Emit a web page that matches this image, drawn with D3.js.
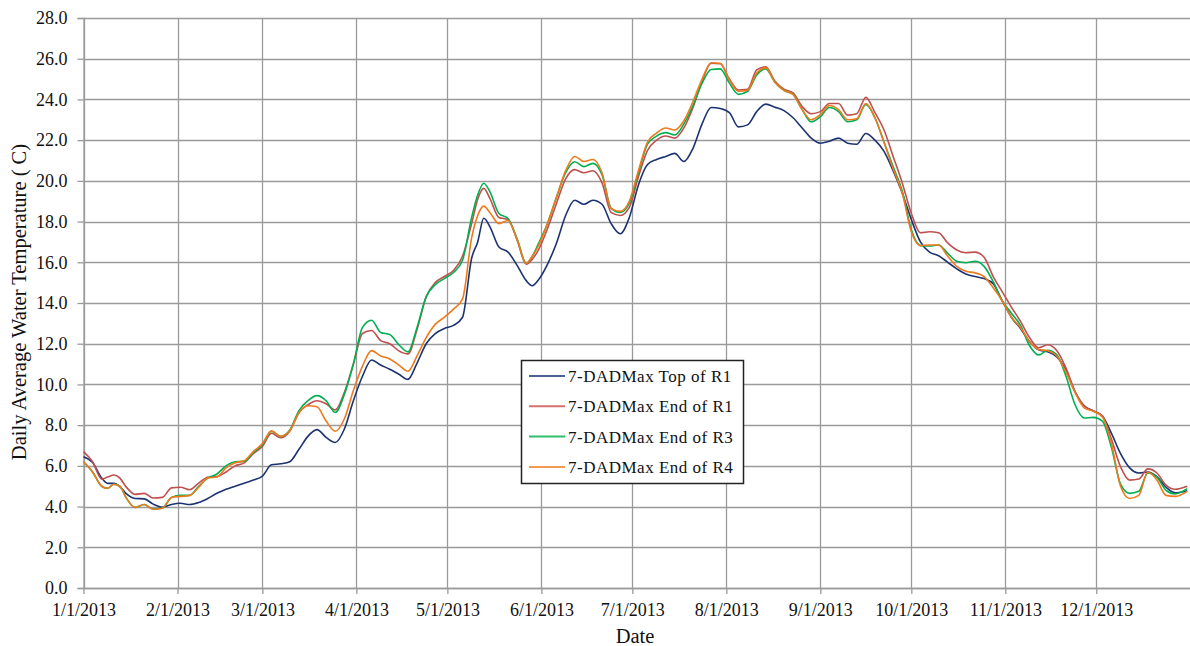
<!DOCTYPE html>
<html>
<head>
<meta charset="utf-8">
<script src="https://cdn.jsdelivr.net/npm/d3@7"></script>
<style>
  html, body { margin: 0; padding: 0; background: #fff; }
  svg { display: block; }
  text { font-family: "Liberation Serif", "Times New Roman", "DejaVu Serif", serif; fill: #111; }
</style>
</head>
<body>
<svg id="chart" width="1190" height="646"></svg>
<script>
// Day offsets from 1/1/2013 at which the 7-day average daily maximum was sampled
const dayOffsets = [0,3,6,8,10,12,14,17,20,23,26,29,32,35,38,41,44,47,50,53,56,59,62,65,68,71,74,77,80,83,86,89,92,95,98,101,104,107,110,113,116,119,122,125,128,130,132,134,137,140,143,146,148,150,153,156,159,162,165,168,171,174,177,180,183,186,189,192,195,198,201,204,207,210,213,216,219,222,225,228,231,234,237,240,243,246,249,252,255,258,261,264,267,270,273,276,279,282,285,288,291,294,297,300,303,306,309,312,315,318,321,324,327,330,333,336,339,342,345,348,351,354,357,360,364];

const topR1 = [6.45,6.16,5.4,5.14,5.14,4.98,4.65,4.4,4.38,4.12,3.97,4.1,4.16,4.1,4.2,4.4,4.65,4.85,5.0,5.15,5.3,5.5,6.05,6.1,6.2,6.8,7.45,7.78,7.4,7.15,7.8,9.2,10.4,11.2,10.95,10.75,10.5,10.25,11.05,12.0,12.5,12.75,12.9,13.3,16.2,17.0,18.16,17.75,16.75,16.5,15.85,15.1,14.85,15.13,15.9,16.95,18.3,19.05,18.85,19.05,18.85,17.9,17.4,18.2,19.8,20.8,21.05,21.2,21.35,20.95,21.6,22.8,23.6,23.55,23.35,22.65,22.75,23.4,23.77,23.62,23.45,23.1,22.6,22.1,21.85,21.95,22.1,21.85,21.8,22.33,22.0,21.45,20.5,19.4,18.1,17.0,16.5,16.32,16.0,15.68,15.42,15.3,15.2,14.95,14.1,13.3,12.75,12.1,11.7,11.6,11.35,10.7,9.64,8.95,8.7,8.45,7.6,6.6,5.9,5.65,5.7,5.47,4.95,4.68,4.78];

const endR1 = [6.7,6.2,5.35,5.45,5.55,5.4,4.98,4.6,4.65,4.42,4.45,4.92,4.95,4.83,5.15,5.44,5.47,5.7,6.0,6.15,6.6,6.95,7.6,7.38,7.7,8.6,9.0,9.2,9.05,8.75,9.6,11.0,12.5,12.65,12.15,12.0,11.65,11.5,12.7,14.3,15.0,15.3,15.6,16.3,17.9,19.1,19.63,19.14,18.2,18.1,17.1,15.9,16.15,16.6,17.65,18.9,20.1,20.55,20.4,20.5,19.9,18.45,18.3,18.7,20.2,21.5,22.0,22.2,22.1,22.6,23.6,24.9,25.78,25.75,25.0,24.46,24.5,25.45,25.6,24.9,24.5,24.32,23.65,23.3,23.4,23.8,23.8,23.23,23.3,24.1,23.35,22.5,21.2,19.9,18.4,17.45,17.5,17.45,16.95,16.6,16.47,16.5,16.25,15.3,14.55,13.8,13.1,12.3,11.8,11.95,11.65,10.8,9.64,8.95,8.7,8.45,7.3,5.95,5.3,5.35,5.85,5.65,5.05,4.85,5.0];

const endR3 = [6.2,5.7,5.0,4.9,5.1,5.0,4.45,3.96,4.1,3.88,3.92,4.45,4.55,4.55,5.0,5.4,5.6,6.0,6.2,6.22,6.65,7.05,7.7,7.45,7.75,8.7,9.2,9.45,9.2,8.62,9.5,11.0,12.8,13.15,12.55,12.45,11.95,11.6,12.8,14.3,14.9,15.2,15.5,16.1,18.2,19.3,19.88,19.47,18.4,18.15,17.15,15.95,16.3,16.9,17.9,19.2,20.4,20.94,20.7,20.86,20.3,18.65,18.45,18.9,20.4,21.8,22.2,22.37,22.25,22.8,23.7,24.8,25.47,25.5,24.8,24.25,24.4,25.2,25.5,24.85,24.45,24.25,23.5,22.9,23.15,23.6,23.4,22.9,23.0,23.75,23.1,21.9,20.7,19.5,17.6,16.82,16.8,16.85,16.44,16.05,15.98,16.05,15.8,15.05,14.1,13.5,12.9,11.9,11.45,11.68,11.45,10.4,9.0,8.35,8.38,8.2,6.9,5.1,4.65,4.75,5.65,5.45,4.8,4.62,4.88];

const endR4 = [6.2,5.7,5.0,4.9,5.1,5.0,4.45,3.96,4.1,3.87,3.92,4.45,4.5,4.55,4.95,5.4,5.45,5.9,6.15,6.25,6.7,7.1,7.72,7.45,7.72,8.6,8.95,8.9,8.2,7.7,8.3,9.7,10.9,11.66,11.4,11.25,10.95,10.65,11.4,12.3,12.95,13.3,13.7,14.2,17.2,18.3,18.76,18.45,17.9,18.05,17.1,15.95,16.3,16.8,17.9,19.2,20.5,21.2,20.95,21.05,20.4,18.65,18.5,19.0,20.5,21.9,22.35,22.6,22.5,22.95,23.9,25.0,25.8,25.78,24.95,24.4,24.45,25.3,25.55,24.85,24.45,24.25,23.5,23.0,23.25,23.7,23.5,23.0,23.05,23.8,23.1,21.9,20.6,19.4,17.5,16.82,16.85,16.85,16.3,15.8,15.56,15.48,15.3,14.75,14.1,13.3,12.8,12.1,11.72,11.65,11.4,10.6,9.6,8.85,8.68,8.4,7.1,5.0,4.4,4.55,5.7,5.3,4.55,4.5,4.75];

const seriesNames = ["7-DADMax Top of R1", "7-DADMax End of R1", "7-DADMax End of R3", "7-DADMax End of R4"];
const seriesColors = ["#1C3372", "#C0504D", "#00B050", "#EE7A1E"];
const legendColors = ["#4A6296", "#D4706D", "#2EC06A", "#F39A52"];

const xTickLabels = ["1/1/2013","2/1/2013","3/1/2013","4/1/2013","5/1/2013","6/1/2013","7/1/2013","8/1/2013","9/1/2013","10/1/2013","11/1/2013","12/1/2013"];
const yTicks = [0,2,4,6,8,10,12,14,16,18,20,22,24,26,28];

const svg = d3.select("#chart");
const W = 1190, H = 646;
const plot = { left: 83.5, top: 18, bottom: 588 };
const serif = "Liberation Serif, Times New Roman, DejaVu Serif, serif";

const parseMDY = d3.utcParse("%m/%d/%Y");
const dayToDate = d => new Date(Date.UTC(2013, 0, 1 + d));

const x = d3.scaleUtc()
  .domain([parseMDY("1/1/2013"), parseMDY("1/1/2014")])
  .range([plot.left, 1190.3]);
const y = d3.scaleLinear().domain([0, 28]).range([plot.bottom, plot.top]);

const gridColor = "#9a9a9a";

// horizontal gridlines
svg.append("g").selectAll("line").data(yTicks).join("line")
  .attr("x1", plot.left).attr("x2", W)
  .attr("y1", d => Math.round(y(d)) + 0.5).attr("y2", d => Math.round(y(d)) + 0.5)
  .attr("stroke", gridColor).attr("stroke-width", 1.3);

// vertical gridlines at each month start
const monthDates = xTickLabels.map(parseMDY);
svg.append("g").selectAll("line").data(monthDates).join("line")
  .attr("x1", d => Math.round(x(d)) + 0.5).attr("x2", d => Math.round(x(d)) + 0.5)
  .attr("y1", plot.top).attr("y2", plot.bottom)
  .attr("stroke", gridColor).attr("stroke-width", 1.3);

// y axis with ticks pointing left
const yAxis = svg.append("g")
  .attr("transform", `translate(${plot.left},0)`)
  .call(d3.axisLeft(y).tickValues(yTicks).tickFormat(d => d.toFixed(1)).tickSize(6).tickPadding(10));
yAxis.attr("font-family", serif);
yAxis.select(".domain").attr("stroke", gridColor).attr("stroke-width", 1.3);
yAxis.selectAll(".tick line").attr("stroke", gridColor).attr("stroke-width", 1.3);
yAxis.selectAll(".tick text").attr("font-size", 18).attr("fill", "#111");

// x axis with ticks pointing down
const xAxis = svg.append("g")
  .attr("transform", `translate(0,${plot.bottom})`)
  .call(d3.axisBottom(x).tickValues(monthDates)
    .tickFormat((d, i) => xTickLabels[i]).tickSize(6).tickPadding(9));
xAxis.attr("font-family", serif);
xAxis.select(".domain").remove();
xAxis.append("line").attr("x1", plot.left).attr("x2", W).attr("y1", 0.5).attr("y2", 0.5)
  .attr("stroke", gridColor).attr("stroke-width", 1.3);
xAxis.selectAll(".tick line").attr("stroke", gridColor).attr("stroke-width", 1.3);
xAxis.selectAll(".tick text").attr("font-size", 18).attr("fill", "#111");

// axis titles
svg.append("text").attr("x", 635).attr("y", 643).attr("text-anchor", "middle")
  .attr("font-size", 20.5).text("Date");
svg.append("text")
  .attr("transform", `translate(26,302) rotate(-90)`)
  .attr("text-anchor", "middle").attr("font-size", 20.5)
  .text("Daily Average Water Temperature ( C)");

// series lines
const allSeries = [topR1, endR1, endR3, endR4];
const line = d3.line()
  .x((v, i) => x(dayToDate(dayOffsets[i])))
  .y(v => y(v))
  .curve(d3.curveMonotoneX);

// draw order: navy first, then red, green, orange on top
allSeries.forEach((vals, k) => {
  svg.append("path").datum(vals)
    .attr("d", line)
    .attr("fill", "none")
    .attr("stroke", seriesColors[k])
    .attr("stroke-width", 1.6)
    .attr("stroke-linejoin", "round");
});

// legend
const lg = svg.append("g").attr("transform", "translate(521,360)");
lg.append("rect").attr("x", 0.5).attr("y", 0.5).attr("width", 222).attr("height", 123)
  .attr("fill", "#fff").attr("stroke", "#222").attr("stroke-width", 1.5);
seriesNames.forEach((name, k) => {
  const cy = 16 + k * 30.3;
  lg.append("line").attr("x1", 8).attr("x2", 44).attr("y1", cy).attr("y2", cy)
    .attr("stroke", legendColors[k]).attr("stroke-width", 2);
  lg.append("text").attr("x", 47).attr("y", cy + 6).attr("font-size", 17)
    .attr("letter-spacing", 0.5).text(name);
});
</script>
</body>
</html>
